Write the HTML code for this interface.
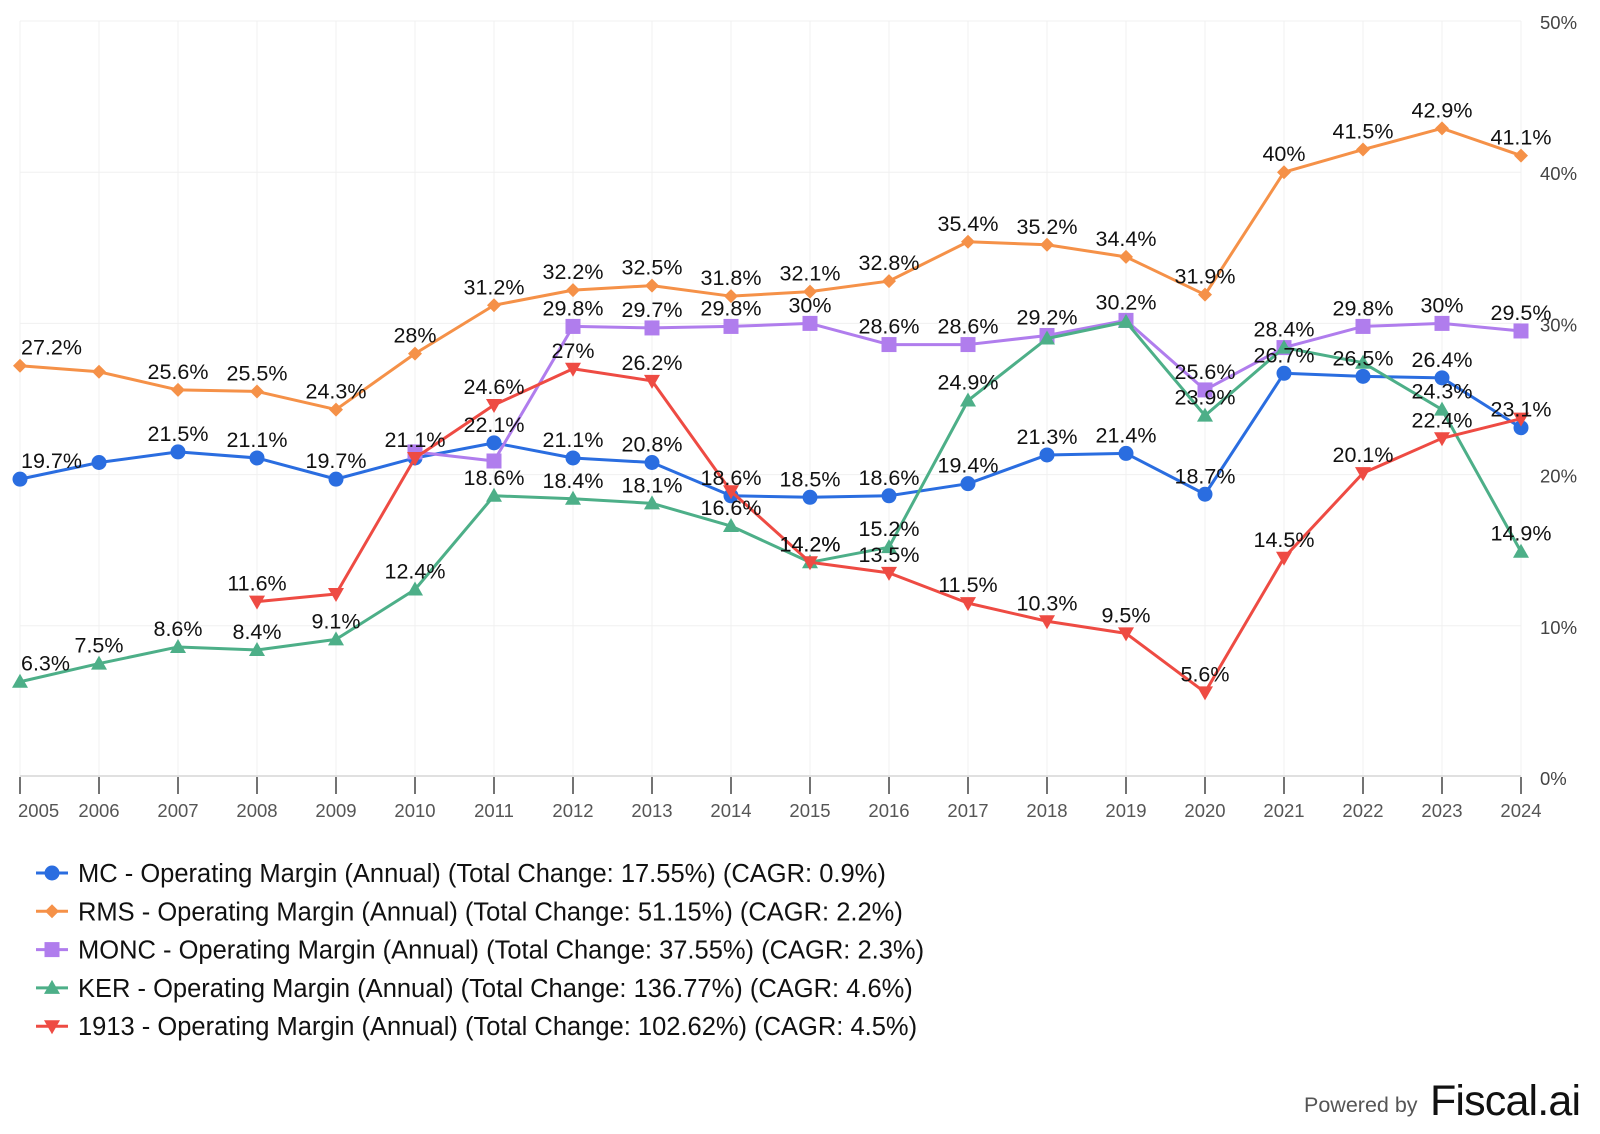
<!DOCTYPE html>
<html><head><meta charset="utf-8"><style>
html,body{margin:0;padding:0;background:#fff;}
svg{display:block;font-family:"Liberation Sans",Arial,sans-serif;}
</style></head><body>
<svg id="chart" width="1600" height="1134" viewBox="0 0 1600 1134">
<g id="grid"></g>
<g id="axes"></g>
<g id="series"></g>
<g id="labels"></g>
<g id="legend"></g>
<g>
<text x="1304" y="1112" font-size="21.5" fill="#555">Powered by</text>
<text x="1430" y="1115" font-size="43" fill="#111" letter-spacing="-1" textLength="150">Fiscal.ai</text>
</g>
</svg>
<script>
const years = ["2005","2006","2007","2008","2009","2010","2011","2012","2013","2014","2015","2016","2017","2018","2019","2020","2021","2022","2023","2024"];
const yTicks = [0,10,20,30,40,50];
const mcValues = [19.7,20.8,21.5,21.1,19.7,21.1,22.1,21.1,20.8,18.6,18.5,18.6,19.4,21.3,21.4,18.7,26.7,26.5,26.4,23.1];
const mcLabels = [1,0,1,1,1,1,1,1,1,1,1,1,1,1,1,1,1,1,1,1];
const rmsValues = [27.2,26.8,25.6,25.5,24.3,28,31.2,32.2,32.5,31.8,32.1,32.8,35.4,35.2,34.4,31.9,40,41.5,42.9,41.1];
const rmsLabels = [1,0,1,1,1,1,1,1,1,1,1,1,1,1,1,1,1,1,1,1];
const moncValues = [null,null,null,null,null,21.5,20.9,29.8,29.7,29.8,30,28.6,28.6,29.2,30.2,25.6,28.4,29.8,30,29.5];
const moncLabels = [0,0,0,0,0,0,0,1,1,1,1,1,1,1,1,1,1,1,1,1];
const kerValues = [6.3,7.5,8.6,8.4,9.1,12.4,18.6,18.4,18.1,16.6,14.2,15.2,24.9,29.0,30.1,23.9,28.4,27.4,24.3,14.9];
const kerLabels = [1,1,1,1,1,1,1,1,1,1,1,1,1,0,0,1,0,0,1,1];
const hkValues = [null,null,null,11.6,12.1,21.1,24.6,27,26.2,18.9,14.2,13.5,11.5,10.3,9.5,5.6,14.5,20.1,22.4,23.7];
const hkLabels = [0,0,0,1,0,0,1,1,1,0,1,1,1,1,1,1,1,1,1,0];
const legendTexts = [
 "MC - Operating Margin (Annual) (Total Change: 17.55%) (CAGR: 0.9%)",
 "RMS - Operating Margin (Annual) (Total Change: 51.15%) (CAGR: 2.2%)",
 "MONC - Operating Margin (Annual) (Total Change: 37.55%) (CAGR: 2.3%)",
 "KER - Operating Margin (Annual) (Total Change: 136.77%) (CAGR: 4.6%)",
 "1913 - Operating Margin (Annual) (Total Change: 102.62%) (CAGR: 4.5%)"
];

const NS="http://www.w3.org/2000/svg";
const X0=20, X1=1521, Y0=777, Y50=21;
function xs(i){return X0+(X1-X0)*i/(years.length-1);}
function ys(v){return Y0-(Y0-Y50)*v/50;}
function mk(tag,attrs,parent){const e=document.createElementNS(NS,tag);for(const k in attrs)e.setAttribute(k,attrs[k]);parent.appendChild(e);return e;}
const grid=document.getElementById('grid'),axes=document.getElementById('axes'),ser=document.getElementById('series'),lab=document.getElementById('labels'),leg=document.getElementById('legend');

years.forEach((y,i)=>{
 const l=mk('line',{x1:xs(i),x2:xs(i),y1:Y50,y2:Y0,stroke:'#f2f2f2','stroke-width':1},grid);
 
 
 const t=mk('line',{x1:xs(i),x2:xs(i),y1:Y0,y2:Y0+17,stroke:'#444','stroke-width':1.5},axes);
 
 
 const tx=mk('text',{x:i===0?X0-2:xs(i),y:Y0+40,'font-size':18.5,fill:'#555','text-anchor':i===0?'start':'middle'},axes);
 tx.textContent=y;
 
 
});
yTicks.forEach(v=>{
 if(v>0){const l=mk('line',{x1:X0,x2:X1,y1:ys(v),y2:ys(v),stroke:'#f0f0f0','stroke-width':1},grid);
 
 }
 const t=mk('text',{x:1540,y:ys(v)+8,'font-size':18.5,fill:'#444'},axes);
 t.textContent=v+'%';
 
 
});
const ax=mk('line',{x1:X0,x2:X1,y1:Y0-1,y2:Y0-1,stroke:'#e0e0e0','stroke-width':2},axes);



function marker(type,x,y,color,parent){
 let e;
 if(type==='circle')e=mk('circle',{cx:x,cy:y,r:7.5,fill:color},parent);
 else if(type==='diamond')e=mk('polygon',{points:`${x},${y-7} ${x+7},${y} ${x},${y+7} ${x-7},${y}`,fill:color},parent);
 else if(type==='square')e=mk('rect',{x:x-7.5,y:y-7.5,width:15,height:15,fill:color},parent);
 else if(type==='triangle')e=mk('polygon',{points:`${x},${y-8} ${x+8},${y+6} ${x-8},${y+6}`,fill:color},parent);
 else e=mk('polygon',{points:`${x-8},${y-6} ${x+8},${y-6} ${x},${y+8}`,fill:color},parent);
 return e;
}
const seriesDefs=[
 {name:'mc',vals:mcValues,labs:mcLabels,color:'#2a6de0',m:'circle'},
 {name:'rms',vals:rmsValues,labs:rmsLabels,color:'#f59148',m:'diamond'},
 {name:'monc',vals:moncValues,labs:moncLabels,color:'#b07ded',m:'square'},
 {name:'ker',vals:kerValues,labs:kerLabels,color:'#4daf88',m:'triangle'},
 {name:'1913',vals:hkValues,labs:hkLabels,color:'#ee4b43',m:'invtriangle'}
];
seriesDefs.forEach(s=>{
 const g=mk('g',{},ser);
 
 
 let d='';let started=false;
 s.vals.forEach((v,i)=>{if(v==null){started=false;return;}d+=(started?'L':'M')+xs(i)+','+ys(v)+' ';started=true;});
 const p=mk('path',{d:d,fill:'none',stroke:s.color,'stroke-width':3,'stroke-linejoin':'round'},g);
 
 
 s.vals.forEach((v,i)=>{
  if(v==null)return;
  const m=marker(s.m,xs(i),ys(v),s.color,g);
  
  
  if(s.labs[i]){
   const t=mk('text',{x:xs(i)+(i===0?1:0),y:ys(v)-11,'font-size':21.5,fill:'#111','text-anchor':i===0?'start':'middle'},lab);
   t.textContent=(Math.round(v*10)/10)+'%';
   
   
  }
 });
});
legendTexts.forEach((txt,i)=>{
 const s=seriesDefs[i];const y=873+i*38.3;
 const g=mk('g',{},leg);
 
 
 mk('line',{x1:36,x2:68,y1:y,y2:y,stroke:s.color,'stroke-width':3},g);
 marker(s.m,52,y,s.color,g);
 const t=mk('text',{x:78,y:y+9,'font-size':25.5,fill:'#111'},g);
 t.textContent=txt;
});
</script>
</body></html>
